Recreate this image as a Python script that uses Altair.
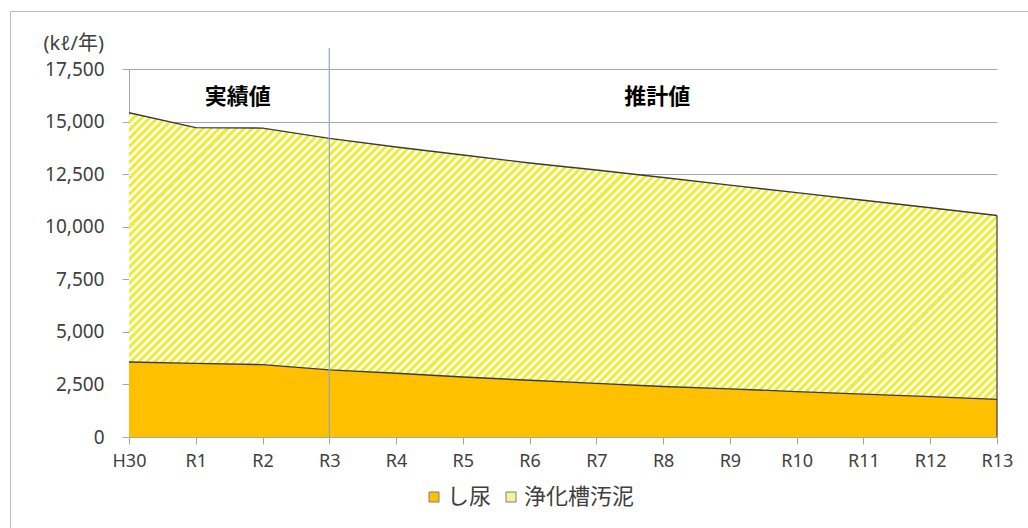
import altair as alt
import pandas as pd

# 年度ごとの処理量 (kℓ/年)
years = ["H30", "R1", "R2", "R3", "R4", "R5", "R6", "R7", "R8", "R9", "R10", "R11", "R12", "R13"]
shinyo = [3570, 3500, 3440, 3190, 3030, 2850, 2700, 2550, 2400, 2290, 2160, 2040, 1920, 1790]
joka = [11850, 11210, 11250, 11010, 10760, 10560, 10330, 10150, 9940, 9690, 9460, 9220, 8980, 8740]
series_names = ["し尿", "浄化槽汚泥"]
y_ticks = [0, 2500, 5000, 7500, 10000, 12500, 15000, 17500]
last_actual = "R3"
period_labels = ["実績値", "推計値"]

W, H = 868, 368
Y_MAX = 17500

ORANGE = "#ffc000"
YELLOW = "#f0ee30"
GAP = "#fdfdf0"
LINE = "#3a3a3a"
GRID = "#a6a6a6"
TEXT = "#404040"
LATIN = "Noto Sans, Noto Sans CJK JP"
CJK = "Noto Sans CJK JP"

df = pd.DataFrame({"year": years, "shinyo": shinyo, "joka": joka})
df["total"] = df["shinyo"] + df["joka"]

# Diagonal hatch for the septic-sludge band, built as a striped linear gradient.
# Gradient coordinates are in the area's bounding-box units, so the vector is
# scaled to keep the stripes at 45 degrees on screen.
px_per_unit = H / Y_MAX
bw = float(W)
bh = float((df["total"].max() - df["shinyo"].min()) * px_per_unit)
k = (bw + bh) / (bw ** 2 + bh ** 2)
period = 8.0
n = int(round((bw + bh) / period))
stops = []
for i in range(n):
    a, b, c = i / n, (i + 0.5) / n, (i + 1) / n
    stops += [
        alt.GradientStop(offset=a, color=YELLOW),
        alt.GradientStop(offset=b, color=YELLOW),
        alt.GradientStop(offset=b, color=GAP),
        alt.GradientStop(offset=c, color=GAP),
    ]
hatch = alt.LinearGradient(gradient="linear", stops=stops, x1=0, y1=0, x2=bw * k, y2=bh * k)


def xenc():
    return alt.X(
        "year:O",
        sort=years,
        scale=alt.Scale(type="point", padding=0),
        axis=alt.Axis(
            title=None, labelAngle=0, grid=False, tickSize=7, labelPadding=8,
            domainColor=GRID, tickColor=GRID, labelColor=TEXT,
            labelFontSize=18, labelFont=LATIN,
        ),
    )


yscale = alt.Scale(domain=[0, Y_MAX], nice=False, zero=True)
yaxis = alt.Axis(
    values=y_ticks, format=",.0f", grid=True, gridColor=GRID, domainColor=GRID,
    tickColor=GRID, tickSize=7, labelPadding=18, labelFontSize=19, labelFont=LATIN,
    labelColor=TEXT, title="(kℓ/年)", titleAngle=0, titleAlign="left",
    titleBaseline="middle", titleX=-86, titleY=-26, titleFontSize=20,
    titleFont=LATIN, titleFontWeight="normal", titleColor=TEXT,
)

base = alt.Chart(df)

frame = alt.Chart(pd.DataFrame({"f": [0]})).mark_rect(
    filled=False, stroke="#bfbfbf", strokeWidth=1
).encode(
    x=alt.value(-118.5), x2=alt.value(W + 60), y=alt.value(-57.5), y2=alt.value(H + 120)
)

shinyo_area = base.mark_area(color=ORANGE).encode(
    x=xenc(), y=alt.Y("shinyo:Q", scale=yscale, axis=yaxis)
)
joka_area = base.mark_area(color=hatch).encode(
    x=xenc(), y=alt.Y("total:Q"), y2="shinyo:Q"
)
shinyo_line = base.mark_line(color=LINE, strokeWidth=1.4).encode(x=xenc(), y="shinyo:Q")
total_line = base.mark_line(color=LINE, strokeWidth=1.4).encode(x=xenc(), y="total:Q")
right_edge = base.transform_filter(alt.datum.year == years[-1]).mark_rule(
    color=LINE, strokeWidth=1.2
).encode(x=xenc(), y="total:Q", y2=alt.datum(0))

divider = alt.Chart(pd.DataFrame({"year": [last_actual]})).mark_rule(
    color="#8ea8c8", strokeWidth=1.2
).encode(x=xenc(), y=alt.datum(0), y2=alt.datum(18500))

actual_label = alt.Chart(pd.DataFrame({"year": ["R1"], "t": [period_labels[0]]})).mark_text(
    font=CJK, fontSize=22, fontWeight="bold", color="#000000", dx=42, baseline="middle"
).encode(x=xenc(), y=alt.datum(16150), text="t:N")
forecast_label = alt.Chart(pd.DataFrame({"year": ["R8"], "t": [period_labels[1]]})).mark_text(
    font=CJK, fontSize=22, fontWeight="bold", color="#000000", dx=-6, baseline="middle"
).encode(x=xenc(), y=alt.datum(16150), text="t:N")

legend_layer = alt.Chart(pd.DataFrame({"series": series_names})).mark_square(
    opacity=0, size=0
).encode(
    color=alt.Color(
        "series:N",
        sort=series_names,
        scale=alt.Scale(domain=series_names, range=[ORANGE, "#f6f29a"]),
        legend=alt.Legend(
            title=None, orient="none", direction="horizontal",
            legendX=294, legendY=417, padding=0,
            symbolType="square", symbolSize=100, symbolOpacity=1,
            symbolStrokeColor="#7f7f7f", symbolStrokeWidth=1,
            labelFont=CJK, labelFontSize=22, labelColor=TEXT,
            labelOffset=2, columnPadding=8,
        ),
    )
)

chart = alt.layer(
    frame, shinyo_area, joka_area, shinyo_line, total_line, right_edge,
    divider, actual_label, forecast_label, legend_layer,
).properties(
    width=W, height=H,
    autosize=alt.AutoSizeParams(type="none"),
    padding={"left": 129, "top": 69, "right": 31, "bottom": 91},
    background="#ffffff",
).configure_view(
    fill="#f0f0f0", stroke=None
)

chart.save("out.html", embed_options={"renderer": "svg", "actions": False})
